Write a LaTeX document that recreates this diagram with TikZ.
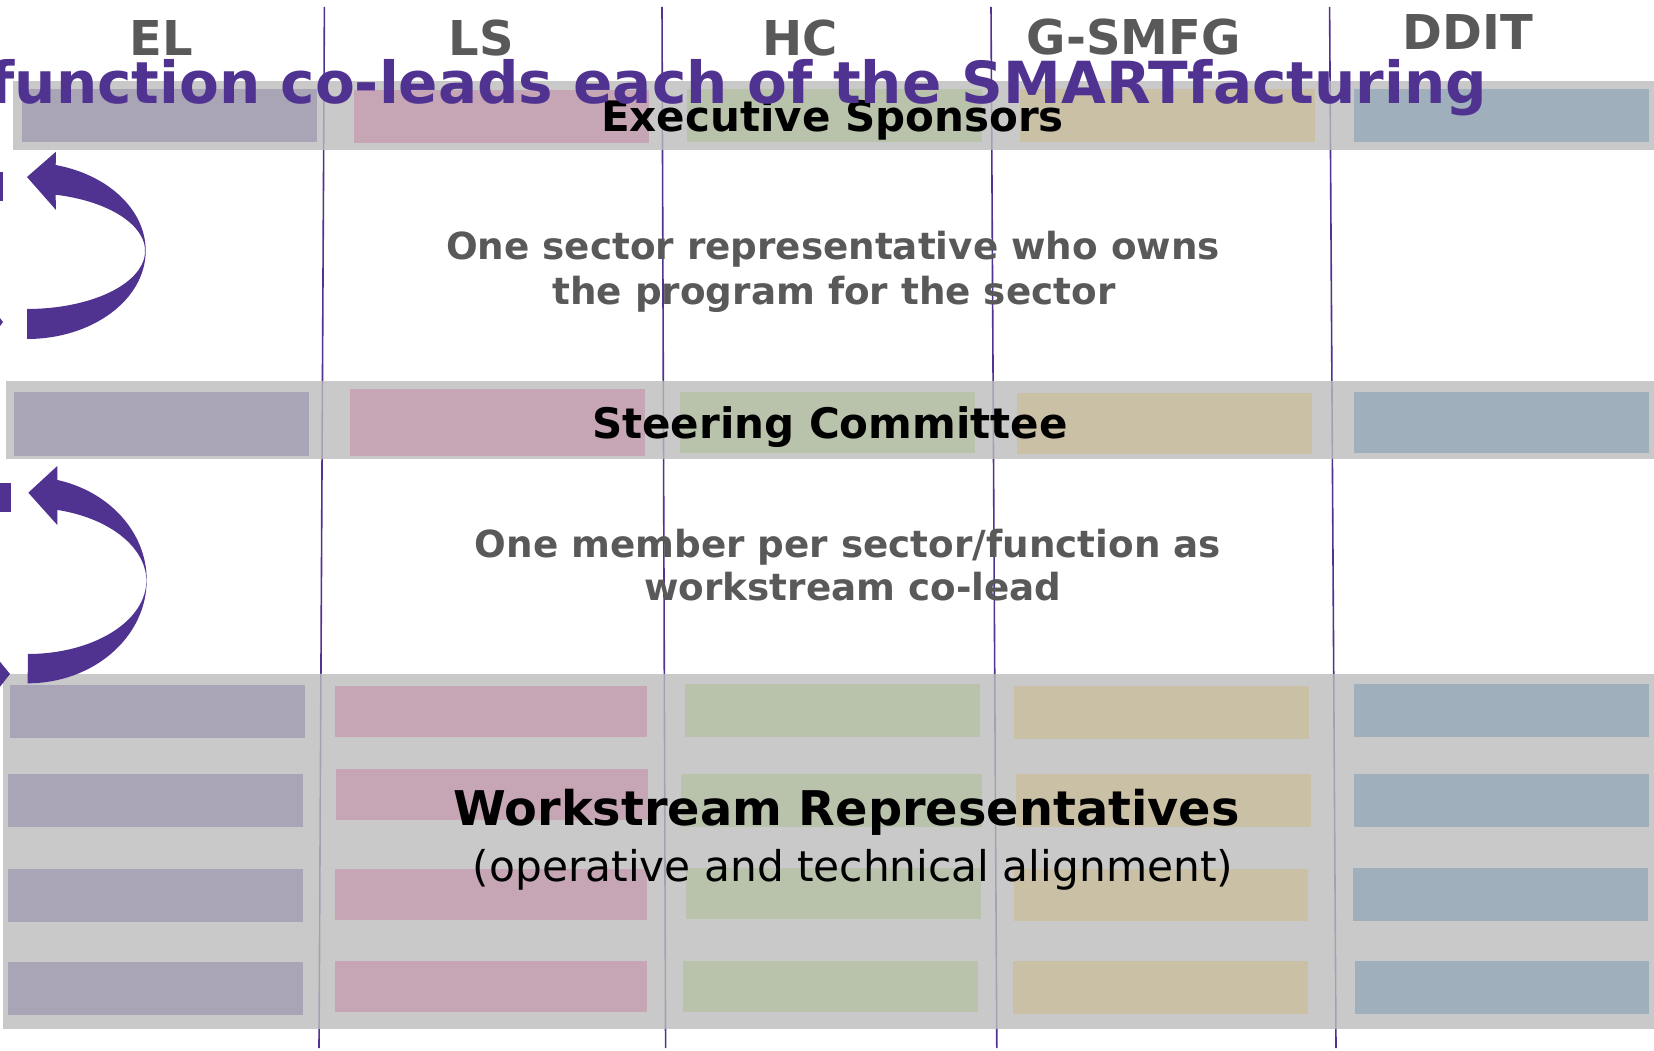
\documentclass[tikz,border=0pt]{standalone}
\usepackage{fontspec}
\setmainfont{DejaVu Sans}
\definecolor{purp}{RGB}{80,50,145}
\definecolor{txtgray}{RGB}{89,89,89}
\definecolor{bandgray}{RGB}{188,188,188}
\definecolor{celEL}{RGB}{169,165,182}
\definecolor{celLS}{RGB}{198,166,181}
\definecolor{celHC}{RGB}{185,194,170}
\definecolor{celGS}{RGB}{201,192,165}
\definecolor{celDD}{RGB}{160,175,188}
\tikzset{
  vline/.style={draw=purp, line width=1.6pt},
  band/.style={fill=bandgray, fill opacity=0.8},
  fEL/.style={fill=celEL}, fLS/.style={fill=celLS}, fHC/.style={fill=celHC},
  fGS/.style={fill=celGS}, fDD/.style={fill=celDD},
  hdr/.style={anchor=base, inner sep=0pt, text=txtgray, font=\fontsize{48}{56}\selectfont\bfseries},
  lbl/.style={anchor=base, inner sep=0pt, text=black, font=\fontsize{42}{50}\selectfont\bfseries},
  note/.style={anchor=base, inner sep=0pt, text=txtgray, font=\fontsize{37.3}{45}\selectfont\bfseries},
  cyc/.style={fill=purp, draw=none}
}
\begin{document}
\begin{tikzpicture}[x=1pt,y=1pt]
\useasboundingbox (0,0) rectangle (1654,-1051);
\fill[white] (0,0) rectangle (1654,-1051);
% vertical separators
\draw[vline] (324.4,-7) -- (319,-1048);
\draw[vline] (662,-7) -- (665.6,-1048);
\draw[vline] (991,-7) -- (996.8,-1048);
\draw[vline] (1329.6,-7) -- (1336,-1048);
% bands
\fill[band] (13,-81) rectangle (1654,-149.7);
\fill[band] (5.8,-381) rectangle (1654,-459.3);
\fill[band] (2.6,-674) rectangle (1654,-1029.3);
% executive row
\fill[fEL] (22,-89) rectangle (316.5,-141.7);
\fill[fLS] (354,-90) rectangle (649,-142.7);
\fill[fHC] (687,-89) rectangle (981.5,-141.7);
\fill[fGS] (1020,-89) rectangle (1315,-141.7);
\fill[fDD] (1354,-89) rectangle (1648.7,-141.7);
% steering row
\fill[fEL] (14.2,-392) rectangle (309,-456);
\fill[fLS] (350,-389) rectangle (645,-456);
\fill[fHC] (680,-392) rectangle (975,-452.7);
\fill[fGS] (1017,-393) rectangle (1312,-453.7);
\fill[fDD] (1354,-392) rectangle (1648.7,-452.7);
% workstream rows
\fill[fEL] (10,-685) rectangle (305,-737.7);
\fill[fEL] (8,-774) rectangle (302.7,-827);
\fill[fEL] (8,-869) rectangle (302.7,-921.7);
\fill[fEL] (8,-962) rectangle (302.7,-1014.7);
\fill[fLS] (335,-686) rectangle (647,-736.7);
\fill[fLS] (336,-769) rectangle (648,-819.7);
\fill[fLS] (335,-869) rectangle (647,-919.7);
\fill[fLS] (335,-961) rectangle (647,-1011.7);
\fill[fHC] (685,-684) rectangle (980,-736.7);
\fill[fHC] (681,-774) rectangle (982,-826.7);
\fill[fHC] (686,-868) rectangle (981,-918.7);
\fill[fHC] (683,-961) rectangle (978,-1011.7);
\fill[fGS] (1014,-686) rectangle (1308.5,-738.7);
\fill[fGS] (1015.8,-774) rectangle (1310.6,-826.7);
\fill[fGS] (1013.7,-869) rectangle (1307.5,-921.3);
\fill[fGS] (1013,-961) rectangle (1307.5,-1013.7);
\fill[fDD] (1354,-684) rectangle (1648.7,-736.7);
\fill[fDD] (1354,-774) rectangle (1648.7,-826.7);
\fill[fDD] (1352.8,-868) rectangle (1647.6,-920.7);
\fill[fDD] (1355,-961) rectangle (1649,-1013.7);
% headers
\node[hdr] (hEL) at (161,-56) {EL};
\node[hdr] (hLS) at (481,-56) {LS};
\node[hdr] (hHC) at (800,-56) {HC};
\node[hdr] (hGS) at (1133.6,-55) {G-SMFG};
\node[hdr] (hDD) at (1468,-50) {DDIT};
% labels
\node[lbl] (exec) at (832.5,-132) {Executive Sponsors};
\node[lbl] (steer) at (830,-438) {Steering Committee};
\node[note] (n1a) at (833,-259.3) {One sector representative who owns};
\node[note] (n1b) at (834,-304) {the program for the sector};
\node[note] (n2a) at (848,-557.3) {One member per sector/function as};
\node[note] (n2b) at (853,-600.7) {workstream co-lead};
\node[anchor=base, inner sep=0pt, font=\fontsize{47.8}{56}\selectfont\bfseries] (ws) at (846.7,-825.7) {Workstream Representatives};
\node[anchor=base, inner sep=0pt, font=\fontsize{42.3}{50}\selectfont] (wsub) at (853,-881.7) {(operative and technical alignment)};
% title overlay
\node[anchor=base east, inner sep=0pt, text=purp, font=\fontsize{58}{64}\selectfont\bfseries] (title) at (1487,-104) {function co-leads each of the SMARTfacturing};
% cycle arrows
\fill[cyc] (27,-339) arc (-90:76:118.7pt and 88.3pt) -- (56,-151.7) -- (27,-177) -- (56,-210) -- (55.6,-194.7) arc (76:-90:118pt and 58pt) -- cycle;
\fill[cyc] (27.7,-683.3) arc (-90:75.6:119pt and 103.3pt) -- (57.3,-466) -- (28.3,-492.7) -- (57.3,-525) -- (57.3,-509.9) arc (75.6:-90:118.5pt and 73.2pt) -- cycle;
% fragments of the clipped companion arrows
\fill[cyc] (0,-172) rectangle (2.7,-201);
\fill[cyc] (0,-318) -- (3,-322) -- (0,-326) -- cycle;
\fill[cyc] (0,-483) rectangle (11,-512);
\fill[cyc] (0,-661.7) -- (10,-674) -- (0,-686.7) -- cycle;
\end{tikzpicture}
\end{document}
